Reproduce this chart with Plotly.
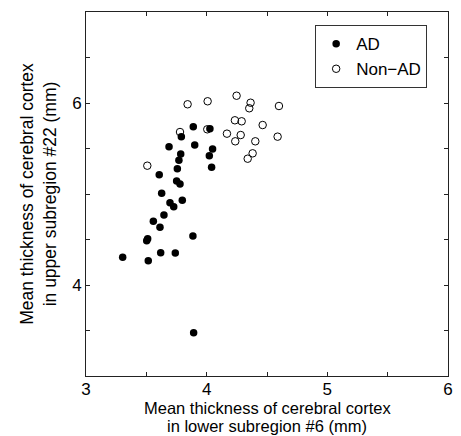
import plotly.graph_objects as go

# AD group (filled)
ad_x = [3.889, 4.027, 3.790, 3.688, 3.901, 4.049, 4.022, 3.785, 3.770, 4.041,
        3.757, 3.607, 3.751, 3.779, 3.627, 3.696, 3.727, 3.798, 3.646, 3.558,
        3.613, 3.886, 3.511, 3.503, 3.304, 3.516, 3.619, 3.740, 3.892]
ad_y = [5.740, 5.718, 5.630, 5.520, 5.538, 5.495, 5.421, 5.440, 5.370, 5.293,
        5.278, 5.212, 5.143, 5.110, 5.008, 4.904, 4.861, 4.930, 4.769, 4.700,
        4.634, 4.538, 4.509, 4.487, 4.304, 4.267, 4.355, 4.352, 3.476]

# Non-AD group (open)
nonad_x = [3.508, 3.842, 4.008, 4.248, 4.364, 4.353, 4.599, 4.234, 4.290, 4.464,
           3.779, 4.005, 4.168, 4.282, 4.237, 4.403, 4.588, 4.381, 4.340]
nonad_y = [5.311, 5.986, 6.019, 6.080, 6.003, 5.942, 5.967, 5.810, 5.799, 5.758,
           5.681, 5.711, 5.663, 5.648, 5.579, 5.579, 5.630, 5.447, 5.388]

x_tickvals = [3, 3.5, 4, 4.5, 5, 5.5, 6]
x_ticktext = ["3", "", "4", "", "5", "", "6"]
y_tickvals = [3, 3.5, 4, 4.5, 5, 5.5, 6, 6.5, 7]
y_ticktext = ["", "", "4", "", "", "", "6", "", ""]

x_title_lines = ["Mean thickness of cerebral cortex", "in lower subregion #6 (mm)"]
y_title = "Mean thickness of cerebral cortex<br>in upper subregion #22 (mm)"

FONT = "Liberation Sans, Arial, sans-serif"

fig = go.Figure()
fig.add_trace(go.Scatter(
    x=ad_x, y=ad_y, mode="markers", name="AD",
    marker=dict(symbol="circle", size=7.5, color="black", line=dict(width=0)),
))
fig.add_trace(go.Scatter(
    x=nonad_x, y=nonad_y, mode="markers", name="Non\u2212AD",
    marker=dict(symbol="circle-open", size=7.5, color="black", line=dict(width=1, color="black")),
))

axis_common = dict(
    showgrid=False, zeroline=False, showline=True, linecolor="#222222", linewidth=1,
    mirror="ticks", ticks="inside", ticklen=4, tickcolor="#222222", tickwidth=1,
    tickfont=dict(family=FONT, size=17, color="black"), automargin=False,
)

fig.update_layout(
    width=461, height=436,
    margin=dict(l=86, r=13, t=12, b=60),
    paper_bgcolor="white", plot_bgcolor="white",
    font=dict(family=FONT, size=17, color="black"),
    showlegend=True,
    legend=dict(
        x=0.633, y=0.964, xanchor="left", yanchor="top",
        bordercolor="#333333", borderwidth=1, bgcolor="white",
        font=dict(family=FONT, size=17, color="black"),
        itemsizing="trace",
    ),
    xaxis=dict(
        range=[3, 6], tickmode="array", tickvals=x_tickvals, ticktext=x_ticktext,
        ticklabelstandoff=-2,
        **axis_common,
    ),
    yaxis=dict(
        range=[3, 7], tickmode="array", tickvals=y_tickvals, ticktext=y_ticktext,
        title=dict(text=y_title, font=dict(family=FONT, size=17.5, color="black"), standoff=11),
        **axis_common,
    ),
)

for txt, ypos in zip(x_title_lines, [-0.0887, -0.1385]):
    fig.add_annotation(
        text=txt, xref="paper", yref="paper", x=0.5, y=ypos,
        xanchor="center", yanchor="middle", showarrow=False,
        font=dict(family=FONT, size=16.5, color="black"),
    )

fig.write_html(
    "out.html",
    config={"displayModeBar": False},
    post_script="document.body.style.margin='0';document.body.style.padding='0';"
                "document.body.style.overflow='hidden';"
                "document.documentElement.style.overflow='hidden';",
)
